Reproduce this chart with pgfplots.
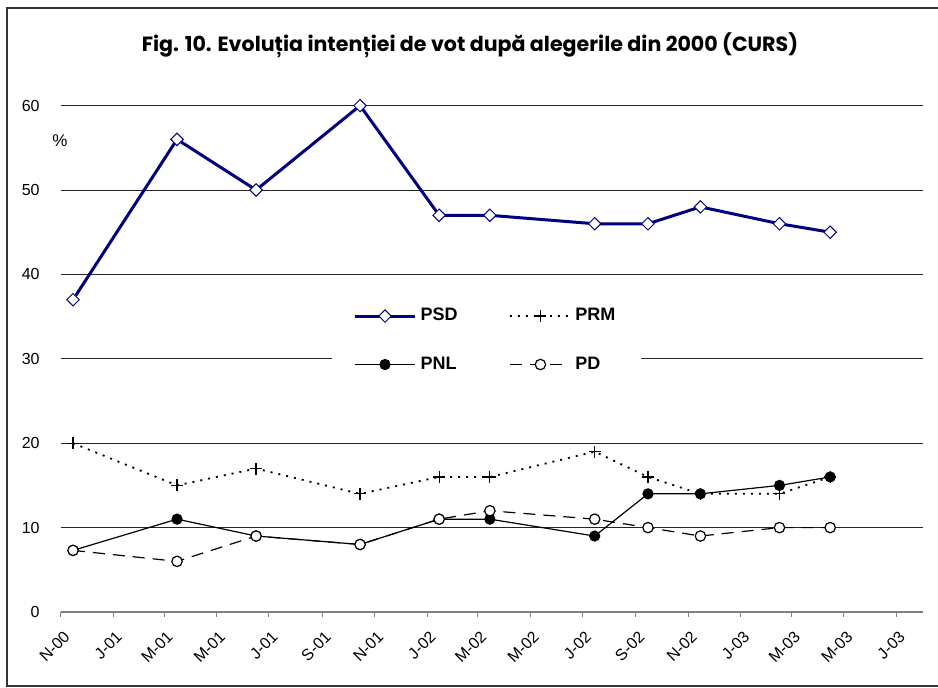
\documentclass[border=0pt]{standalone}
\usepackage{pgfplots}
\pgfplotsset{compat=1.18}
\usepackage{fontspec}
\setmainfont{Liberation Sans}
\newfontfamily\titlefont{Poppins}
\definecolor{psdblue}{RGB}{0,0,128}
\begin{document}
\begin{tikzpicture}[x=1pt,y=1pt]
\useasboundingbox (0,0) rectangle (469,343.5);
\draw[line width=1pt, black!80] (3.5,0.5) rectangle (475,339.5);
\node[font=\titlefont\bfseries\fontsize{10.3}{12}\selectfont] at (235,321) {Fig. 10. Evoluția intenției de vot după alegerile din 2000 (CURS)};
\begin{axis}[
  at={(30.5pt,37.5pt)}, anchor=south west,
  scale only axis, width=431pt, height=253.2pt,
  xmin=0, xmax=1003, ymin=0, ymax=60,
  clip=false,
  axis x line*=bottom, axis y line*=left,
  y axis line style={draw=none},
  x axis line style={draw=gray, line width=0.65pt},
  ytick={10,20,30,40,50,60},
  extra y ticks={0},
  extra y tick style={grid=none},
  ymajorgrids,
  major grid style={black!85, line width=0.5pt},
  ytick style={draw=none},
  yticklabel style={anchor=east, inner sep=0pt, xshift=-8pt, font=\fontsize{8}{9.6}\selectfont},
  /pgf/number format/assume math mode=true,
  xtick={0,61,120,181,242,304,365,426,485,546,607,669,730,791,850,911,972},
  xticklabels={N-00,J-01,M-01,M-01,J-01,S-01,N-01,J-02,M-02,M-02,J-02,S-02,N-02,J-03,M-03,M-03,J-03},
  xtick style={draw=gray, line width=0.5pt},
  tick align=outside,
  major tick length=2.5pt,
  xticklabel style={xshift=3pt, yshift=-8.5pt, anchor=east, rotate=45, inner sep=0pt, font=\fontsize{8}{9.6}\selectfont},
  legend columns=2,
  legend cell align=left,
  legend style={at={(axis cs:495,32.2)}, anchor=center, draw=none, fill=white,
    font=\bfseries\fontsize{9}{10.8}\selectfont, inner xsep=11pt, inner ysep=7pt,
    row sep=12.5pt, /tikz/every even column/.append style={column sep=24pt}},
  legend image code/.code={\draw[mark repeat=2,mark phase=2,#1] plot coordinates {(0pt,0pt) (15pt,0pt) (30pt,0pt)};},
]
\addplot[color=psdblue, line width=1.5pt, mark=square*, mark size=2.2pt,
  mark options={rotate=45, fill=white, draw=psdblue, line width=0.5pt, solid}]
  coordinates {(14,37) (135,56) (227,50) (348,60) (440,47) (499,47) (621,46) (683,46) (744,48) (836,46) (895,45)};
\addlegendentry{PSD}
\addplot[color=black, line width=0.9pt, dash pattern=on 1pt off 3pt, mark=+, mark size=3pt,
  mark options={solid, line width=0.6pt}]
  coordinates {(14,20) (135,15) (227,17) (348,14) (440,16) (499,16) (621,19) (683,16) (744,14) (836,14) (895,16)};
\addlegendentry{PRM}
\addplot[color=black, line width=0.6pt, mark=*, mark size=2.5pt, mark options={solid, fill=black}]
  coordinates {(14,7.3) (135,11) (227,9) (348,8) (440,11) (499,11) (621,9) (683,14) (744,14) (836,15) (895,16)};
\addlegendentry{PNL}
\addplot[color=black, line width=0.6pt, dash pattern=on 6pt off 4pt, mark=*, mark size=2.6pt,
  mark options={solid, fill=white, line width=0.6pt}]
  coordinates {(14,7.3) (135,6) (227,9) (348,8) (440,11) (499,12) (621,11) (683,10) (744,9) (836,10) (895,10)};
\addlegendentry{PD}
\node[font=\fontsize{8.5}{10}\selectfont] at (axis cs:-1.2,55.85) {\%};
\end{axis}
\end{tikzpicture}
\end{document}
